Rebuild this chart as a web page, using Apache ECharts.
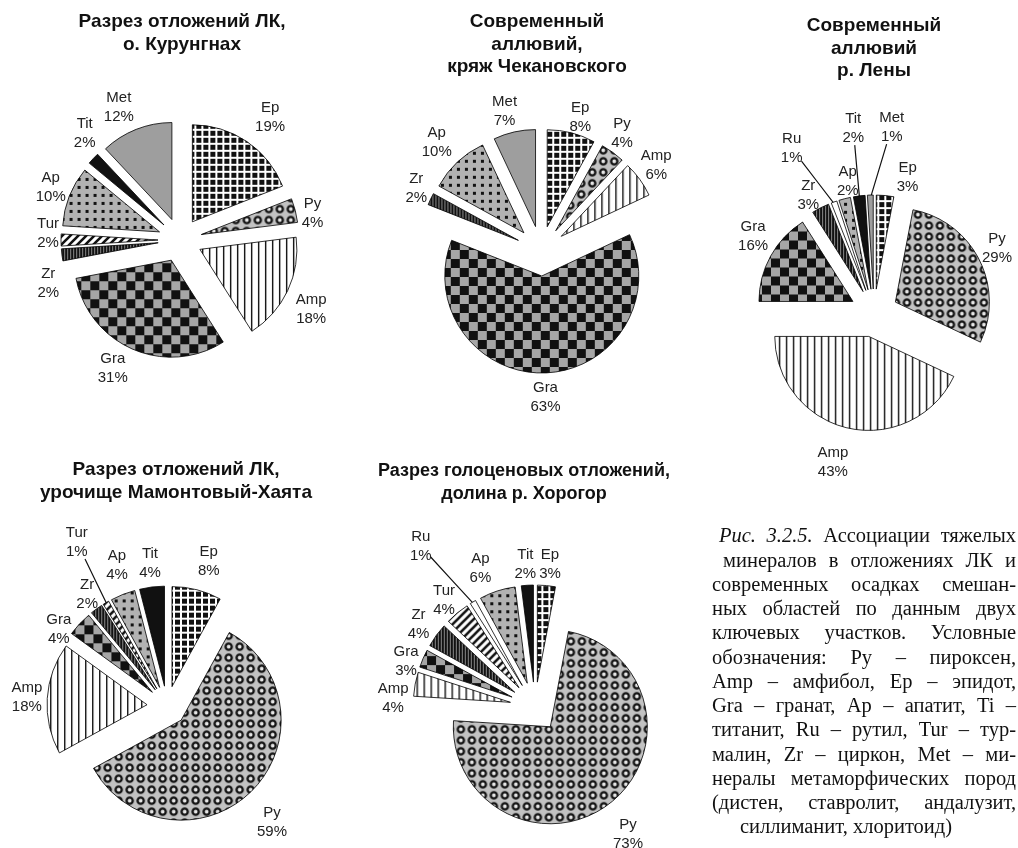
<!DOCTYPE html>
<html lang="ru">
<head>
<meta charset="UTF-8">
<title>Ассоциации тяжелых минералов</title>
<script src="https://cdn.jsdelivr.net/npm/echarts@6/dist/echarts.min.js"></script>
<style>
  body { margin: 0; background: #fff; }
  #main { width: 1018px; height: 848px; }
</style>
</head>
<body>
<div id="main"></div>
<script>
// доли минералов (%) по участкам, по часовой стрелке от 12 часов
const kurungnahNames = ['Ep', 'Py', 'Amp', 'Gra', 'Zr', 'Tur', 'Ap', 'Tit', 'Met'];
const kurungnahValues = [19, 4, 18, 31, 2, 2, 10, 2, 12];

const chekanNames = ['Ep', 'Py', 'Amp', 'Gra', 'Zr', 'Ap', 'Met'];
const chekanValues = [8, 4, 6, 63, 2, 10, 7];

const lenaNames = ['Ep', 'Py', 'Amp', 'Gra', 'Zr', 'Ru', 'Ap', 'Tit', 'Met'];
const lenaValues = [3, 29, 43, 16, 3, 1, 2, 2, 1];

const mamontNames = ['Ep', 'Py', 'Amp', 'Gra', 'Zr', 'Tur', 'Ap', 'Tit'];
const mamontValues = [8, 59, 18, 4, 2, 1, 4, 4];

const khorogorNames = ['Ep', 'Py', 'Amp', 'Gra', 'Zr', 'Tur', 'Ru', 'Ap', 'Tit'];
const khorogorValues = [3, 73, 4, 3, 4, 4, 1, 6, 2];

const titles = [
  'Разрез отложений ЛК,\nо. Курунгнах',
  'Современный\nаллювий,\nкряж Чекановского',
  'Современный\nаллювий\nр. Лены',
  'Разрез отложений ЛК,\nурочище Мамонтовый-Хаята',
  'Разрез голоценовых отложений,\nдолина р. Хорогор'
];

const captionLines = [
  'Рис. 3.2.5. Ассоциации тяжелых',
  'минералов в отложениях ЛК и',
  'современных осадках смешан-',
  'ных областей по данным двух',
  'ключевых участков. Условные',
  'обозначения: Py – пироксен,',
  'Amp – амфибол, Ep – эпидот,',
  'Gra – гранат, Ap – апатит, Ti –',
  'титанит, Ru – рутил, Tur – тур-',
  'малин, Zr – циркон, Met – ми-',
  'нералы метаморфических пород',
  '(дистен, ставролит, андалузит,',
  'силлиманит, хлоритоид)'
];

// штриховки в духе Excel
function tile(w, h, draw) {
  const c = document.createElement('canvas');
  c.width = w; c.height = h;
  draw(c.getContext('2d'));
  return { image: c, repeat: 'repeat' };
}
const fills = {
  Ep: tile(7, 7, g => {
    g.fillStyle = '#fff'; g.fillRect(0, 0, 7, 7);
    g.fillStyle = '#111'; g.fillRect(2, 2, 5, 5);
  }),
  Py: tile(11, 11, g => {
    g.fillStyle = '#c2c2c2'; g.fillRect(0, 0, 11, 11);
    g.beginPath(); g.arc(5.5, 5.5, 3.1, 0, Math.PI * 2);
    g.fillStyle = '#e6e6e6'; g.fill();
    g.lineWidth = 2.3; g.strokeStyle = '#111'; g.stroke();
  }),
  Amp: tile(7, 7, g => {
    g.fillStyle = '#fff'; g.fillRect(0, 0, 7, 7);
    g.fillStyle = '#111'; g.fillRect(0, 0, 1.4, 7);
  }),
  Gra: tile(18, 18, g => {
    g.fillStyle = '#a6a6a6'; g.fillRect(0, 0, 18, 18);
    g.fillStyle = '#111'; g.fillRect(0, 0, 9, 9); g.fillRect(9, 9, 9, 9);
  }),
  Zr: tile(3, 3, g => {
    g.fillStyle = '#111'; g.fillRect(0, 0, 3, 3);
    g.fillStyle = '#8a8a8a'; g.fillRect(2, 0, 1, 3);
  }),
  Tur: tile(8, 8, g => {
    g.fillStyle = '#fff'; g.fillRect(0, 0, 8, 8);
    g.strokeStyle = '#111'; g.lineWidth = 2.6;
    g.beginPath();
    g.moveTo(-4, 4); g.lineTo(4, -4);
    g.moveTo(0, 8); g.lineTo(8, 0);
    g.moveTo(4, 12); g.lineTo(12, 4);
    g.stroke();
  }),
  Ap: tile(8, 8, g => {
    g.fillStyle = '#b2b2b2'; g.fillRect(0, 0, 8, 8);
    g.fillStyle = '#111'; g.fillRect(2, 2, 3, 3);
  }),
  Tit: '#111',
  Met: '#9e9e9e',
  Ru: '#fff'
};

const labelFont = 'Liberation Sans';

// геометрия кругов и ручные сдвиги подписей (как в исходной диаграмме)
const pies = [
  { names: kurungnahNames, values: kurungnahValues, center: [180, 240], radius: 97, offset: 22,
    nudge: { Ep: [12, -4], Py: [2, 9], Amp: [5, 8], Gra: [-12, -3], Zr: [2, 25], Tur: [3, -7],
             Tit: [3, -9], Met: [-10, 0] }, leaders: [] },
  { names: chekanNames, values: chekanValues, center: [541, 251], radius: 97, offset: 25,
    nudge: { Ep: [5, 8], Ap: [-7, -2], Met: [-6, 3] }, leaders: [] },
  { names: lenaNames, values: lenaValues, center: [874, 313], radius: 94, offset: 24,
    nudge: { Met: [22, -44], Tit: [-4, -44], Ru: [-37, -31], Ep: [21, 6], Ap: [7, 6], Amp: [-11, 11],
             Zr: [-5, 9], Gra: [0, -8] },
    leaders: ['Ru', 'Tit', 'Met'] },
  { names: mamontNames, values: mamontValues, center: [167, 706], radius: 100, offset: 20,
    nudge: { Tur: [-21, -40], Gra: [-8, 22], Py: [6, 15], Ep: [8, -5], Zr: [0, 5], Ap: [0, -7] },
    leaders: ['Tur'] },
  { names: khorogorNames, values: khorogorValues, center: [535, 707], radius: 97, offset: 25,
    nudge: { Ru: [-44, -35], Ap: [-12, 0], Tur: [-3, 6], Zr: [-5, 3], Gra: [-1, 12], Amp: [-2, 19],
             Py: [6, 12], Ep: [2, 3], Tit: [-1, 3] },
    leaders: ['Ru'] }
];

function midDir(values, i) {
  const total = values.reduce((a, b) => a + b, 0);
  let cum = 0;
  for (let k = 0; k < i; k++) cum += values[k];
  const a = (cum + values[i] / 2) / total * 2 * Math.PI;
  return [Math.sin(a), -Math.cos(a)];
}

// раздвинутые секторы
function pieSeries(pie) {
  return {
    type: 'pie',
    center: pie.center,
    radius: pie.radius,
    startAngle: 90,
    clockwise: true,
    animation: false,
    selectedMode: 'multiple',
    selectedOffset: pie.offset,
    emphasis: { disabled: true },
    itemStyle: { borderColor: '#000', borderWidth: 0.8 },
    select: { itemStyle: { borderColor: '#000', borderWidth: 0.8 } },
    label: { show: false },
    labelLine: { show: false },
    data: pie.names.map((n, i) => ({
      name: n,
      value: pie.values[i],
      selected: true,
      itemStyle: { color: fills[n] }
    }))
  };
}

// прозрачный дубль круга только ради подписей: ставим их вплотную к внешней дуге
function labelSeries(pie) {
  return {
    type: 'pie',
    center: pie.center,
    radius: pie.radius,
    startAngle: 90,
    clockwise: true,
    animation: false,
    silent: true,
    selectedMode: false,
    avoidLabelOverlap: false,
    itemStyle: { color: 'rgba(0,0,0,0)', borderWidth: 0 },
    label: {
      show: true,
      position: 'outside',
      formatter: '{b}\n{c}%',
      fontFamily: labelFont,
      fontSize: 15,
      lineHeight: 19,
      color: '#222'
    },
    labelLine: { show: false, length: 4, length2: 0, lineStyle: { color: '#111', width: 1.2 } },
    labelLayout: params => {
      const i = params.dataIndex;
      const [ux, uy] = midDir(pie.values, i);
      const r = pie.radius + pie.offset + 5;
      const w = params.labelRect.width, h = params.labelRect.height;
      const n = pie.nudge[pie.names[i]] || [0, 0];
      const lx = pie.center[0] + ux * (r + w / 2) + n[0];
      const ly = pie.center[1] + uy * (r + h / 2) + n[1];
      const out = { x: lx, y: ly, align: 'center', verticalAlign: 'middle' };
      if (pie.leaders.indexOf(pie.names[i]) >= 0) {
        const ar = pie.radius + pie.offset - 3;
        const sx = pie.center[0] + ux * ar, sy = pie.center[1] + uy * ar;
        const vx = sx - lx, vy = sy - ly;
        const t = Math.min((w / 2 - 1) / Math.abs(vx || 1e-6), (h / 2 - 2) / Math.abs(vy || 1e-6));
        const ex = lx + vx * t, ey = ly + vy * t;
        out.labelLinePoints = [[sx, sy], [(sx + ex) / 2, (sy + ey) / 2], [ex, ey]];
      }
      return out;
    },
    data: pie.names.map((n, i) => ({
      name: n,
      value: pie.values[i],
      labelLine: { show: pie.leaders.indexOf(n) >= 0 }
    }))
  };
}

const titlePos = [[182, 11], [537, 11], [874, 15], [176, 459], [524, 460]];
const titleSize = [19, 19, 19, 19, 18];

const capRight = 1016, capTop = 537, capStep = 24.25;
const capLeft = [719, 723, 712, 712, 712, 712, 712, 712, 712, 712, 712, 712, 712];
const capFont = '20.5px "Liberation Serif"';
const measure = document.createElement('canvas').getContext('2d');

// выключка по ширине: слова раскладываются с равными промежутками
const caption = [];
captionLines.forEach((line, i) => {
  const y = capTop + i * capStep;
  if (i === captionLines.length - 1) {
    caption.push({ type: 'text', x: 846, y: y,
      style: { text: line, font: capFont, fill: '#111', align: 'center', verticalAlign: 'middle' } });
    return;
  }
  const words = line.split(' ');
  const italic = i === 0 ? 2 : 0;  // «Рис. 3.2.5.» курсивом
  const fonts = words.map((w, k) => (k < italic ? 'italic ' : '') + capFont);
  const widths = words.map((w, k) => { measure.font = fonts[k]; return measure.measureText(w).width; });
  const total = widths.reduce((a, b) => a + b, 0);
  const gap = (capRight - capLeft[i] - total) / (words.length - 1);
  let x = capLeft[i];
  words.forEach((w, k) => {
    caption.push({ type: 'text', x: x, y: y,
      style: { text: w, font: fonts[k], fill: '#111', verticalAlign: 'middle' } });
    x += widths[k] + gap;
  });
});

const chart = echarts.init(document.getElementById('main'));
chart.setOption({
  backgroundColor: '#fff',
  title: titles.map((t, i) => ({
    text: t,
    left: titlePos[i][0],
    top: titlePos[i][1],
    textAlign: 'center',
    padding: 0,
    textStyle: { fontFamily: labelFont, fontWeight: 'bold', fontSize: titleSize[i], lineHeight: 22.5, color: '#111' }
  })),
  series: pies.map(pieSeries).concat(pies.map(labelSeries)),
  graphic: caption
});
</script>
</body>
</html>
